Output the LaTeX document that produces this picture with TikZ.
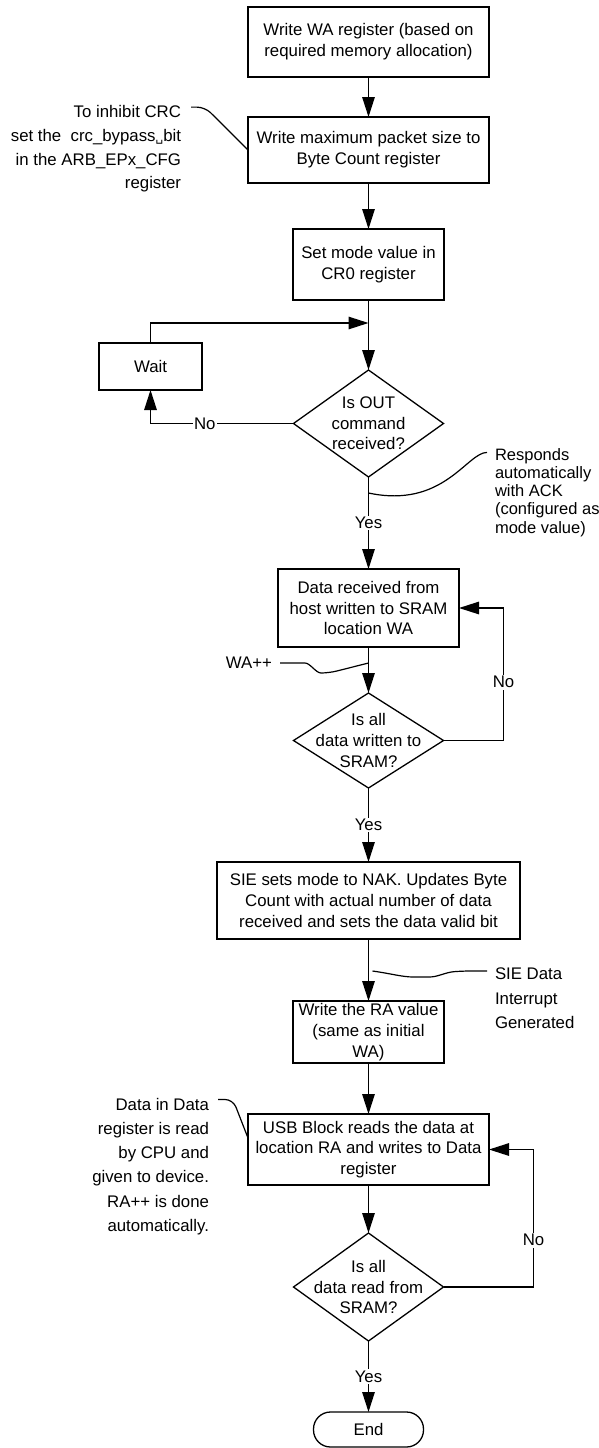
\documentclass[tikz,border=0pt]{standalone}
\usepackage{fontspec}
\setmainfont{Liberation Sans}
\newfontfamily\symfont{DejaVu Sans}
\usetikzlibrary{shapes.geometric, arrows.meta, positioning, calc}

\begin{document}
\begin{tikzpicture}[
        x=1pt, y=1pt,
        every node/.style={font=\fontsize{16.8}{20.7}\selectfont, outer sep=0pt},
        box/.style={rectangle, draw, line width=1.3pt, inner sep=0pt, align=center},
        decision/.style={diamond, draw, line width=1.3pt, inner sep=0pt, minimum width=150pt},
        terminal/.style={rectangle, draw, line width=1.3pt, rounded corners=17pt, inner sep=0pt, minimum width=110pt, minimum height=35pt},
        arrow/.style={-{Triangle[length=20pt, width=12.5pt]}, line width=1.3pt},
        note/.style={line width=1.2pt, rounded corners=8pt},
        notetext/.style={inner sep=0pt},
        lbl/.style={fill=white, inner sep=1.5pt}
    ]
        \useasboundingbox (0,0) rectangle (599,-1448);

        % Main column
        \node[box, minimum width=241pt, minimum height=70pt] (B1) at (368.5,-42) {Write WA register (based on\\required memory allocation)};
        \node[box, minimum width=241pt, minimum height=66pt, below=40pt of B1] (B2) {Write maximum packet size to\\Byte Count register};
        \node[box, minimum width=151pt, minimum height=71pt, below=46pt of B2] (B3) {Set mode value in\\CR0 register};
        \node[decision, minimum height=107pt, below=70pt of B3,
              label={[name=D1t, align=center]center:Is OUT\\command\\received?}] (D1) {};
        \node[box, minimum width=181pt, minimum height=78pt, below=92pt of D1] (B4) {Data received from\\host written to SRAM\\location WA};
        \node[decision, minimum height=95pt, below=46pt of B4,
              label={[name=D2t, align=center]center:Is all\\data written to\\SRAM?}] (D2) {};
        \node[box, minimum width=303pt, minimum height=77pt, below=74pt of D2] (B5) {SIE sets mode to NAK. Updates Byte\\Count with actual number of data\\received and sets the data valid bit};
        \node[box, minimum width=151pt, minimum height=62pt, below=62pt of B5] (B6) {Write the RA value\\(same as initial\\WA)};
        \node[box, minimum width=241pt, minimum height=71pt, below=51pt of B6] (B7) {USB Block reads the data at\\location RA and writes to Data\\register};
        \node[decision, minimum height=108pt, below=48pt of B7,
              label={[name=D3t, align=center]center:Is all\\data read from\\SRAM?}] (D3) {};
        \node[terminal, below=71pt of D3] (E) {End};

        % Wait box
        \node[box, minimum width=103pt, minimum height=47pt] (W) at (150.5,-366.5) {Wait};

        % Annotations
        \node[notetext, anchor=east, align=right, font=\fontsize{16.8}{23.7}\selectfont] (A1) at (181,-149)
            {To inhibit CRC\\set the\ \ crc\_bypass{\symfont\fontsize{12}{12}\selectfont ␣}bit\\in the ARB\_EPx\_CFG\\register};
        \node[notetext, anchor=west, align=left, font=\fontsize{16.5}{18.2}\selectfont] (A2) at (495,-492.5)
            {Responds\\automatically\\with ACK\\(configured as\\mode value)};
        \node[notetext, anchor=east] (WA) at (272,-663) {WA++};
        \node[notetext, anchor=west, align=left, font=\fontsize{16.8}{24.5}\selectfont] (SIE) at (495,-998.5)
            {SIE Data\\Interrupt\\Generated};
        \node[notetext, anchor=east, align=right, font=\fontsize{16.8}{24.2}\selectfont] (A3) at (209,-1166.5)
            {Data in Data\\register is read\\by CPU and\\given to device.\\RA++ is done\\automatically.};

        % Connectors
        \coordinate (J) at ([yshift=-23pt]B3.south);
        \draw[arrow] (B1) -- (B2);
        \draw[arrow] (B2) -- (B3);
        \draw[arrow] (B3) -- (D1);
        \draw[arrow] (D1.west) -| node[lbl, pos=0.31] {No} (W.south);
        \draw[arrow] (W.north) |- (J);
        \draw[arrow] (D1) -- node[lbl] {Yes} (B4);
        \draw[arrow] (B4) -- (D2);
        \draw[arrow] (D2.east) -- ++(60,0) |- node[lbl, pos=0.22] {No} (B4.east);
        \draw[arrow] (D2) -- node[lbl] {Yes} (B5);
        \draw[arrow] (B5) -- (B6);
        \draw[arrow] (B6) -- (B7);
        \draw[arrow] (B7) -- (D3);
        \draw[arrow] (D3.east) -- ++(90,0) |- node[lbl, pos=0.17] {No} (B7.east);
        \draw[arrow] (D3) -- node[lbl] {Yes} (E);

        % Note leaders
        \coordinate (ackA) at ([yshift=-16pt]D1.south);
        \coordinate (ackB) at ([xshift=-8pt, yshift=-4pt]A2.north west);
        \draw[note] ([xshift=10pt, yshift=-1.5pt]A1.north east) -- ++(14,0) -- (B2.west);
        \draw[note] (ackA) .. controls ([shift={(75,-16)}]ackA) and ([shift={(-20,0)}]ackB) .. (ackB);
        \draw[note] ([xshift=8pt]WA.east) -- ++(17,0) to[out=0, in=180] ++(32,-10) -- ([yshift=-16pt]B4.south);
        \draw[note] ([xshift=4pt, yshift=-32pt]B5.south) to[out=-8, in=180] ++(49,-6) to[out=0, in=185] ++(40,6) -- ([xshift=-8pt, yshift=-3pt]SIE.north west);
        \draw[note] ([xshift=9pt, yshift=-1.3pt]A3.north east) -- ++(15,0) -- ([yshift=11.5pt]B7.west);

    \end{tikzpicture}
\end{document}
